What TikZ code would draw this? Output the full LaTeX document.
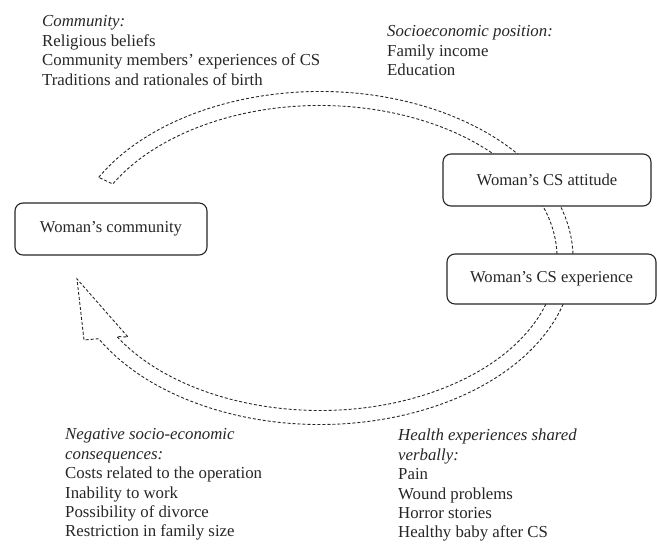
\documentclass[tikz,border=0pt]{standalone}
\usepackage{fontspec}
\setmainfont{Liberation Serif}
\begin{document}
\begin{tikzpicture}[x=1pt,y=1pt,
  box/.style={draw=black!85, line width=1.1pt, rounded corners=8pt, fill=white, inner sep=0pt, text=black!85, font=\fontsize{16.6}{19.4}\selectfont},
  band/.style={draw=black!85, line width=0.9pt, dash pattern=on 3pt off 2pt},
  lbl/.style={anchor=base west, inner sep=0pt, text=black!85, font=\fontsize{16.8}{19.4}\selectfont}]
\useasboundingbox (0,0) rectangle (657,544);
% hollow dashed band: ellipse centre (320,286)
\coordinate (c) at (320,286);
\draw[band] ([shift={(151:253 and 166.5)}]c)
  arc[start angle=151, end angle=-151, x radius=253, y radius=166.5]
  -- (84,204) -- (77,265) -- (128,207)
  -- ([shift={(-149:237 and 152.5)}]c)
  arc[start angle=-149, end angle=151, x radius=237, y radius=152.5]
  -- cycle;
% boxes
\node[box, minimum width=192pt, minimum height=52pt] (comm) at (111,315) {Woman’s community};
\node[box, minimum width=208pt, minimum height=52pt] (att) at (547,364) {Woman’s CS attitude};
\node[box, minimum width=209pt, minimum height=50pt] (exp) at (551.5,265) {Woman’s CS experience};
% labels
\node[lbl] (lcomm) at (42,517) {\begin{tabular}[t]{@{}l@{}}\textit{Community:}\\Religious beliefs\\Community members’ experiences of CS\\Traditions and rationales of birth\end{tabular}};
\node[lbl] (lsoc) at (387,507) {\begin{tabular}[t]{@{}l@{}}\textit{Socioeconomic position:}\\Family income\\Education\end{tabular}};
\node[lbl] (lneg) at (65,104) {\begin{tabular}[t]{@{}l@{}}\textit{Negative socio-economic}\\\textit{consequences:}\\Costs related to the operation\\Inability to work\\Possibility of divorce\\Restriction in family size\end{tabular}};
\node[lbl] (lhea) at (398,103) {\begin{tabular}[t]{@{}l@{}}\textit{Health experiences shared}\\\textit{verbally:}\\Pain\\Wound problems\\Horror stories\\Healthy baby after CS\end{tabular}};
\end{tikzpicture}
\end{document}
